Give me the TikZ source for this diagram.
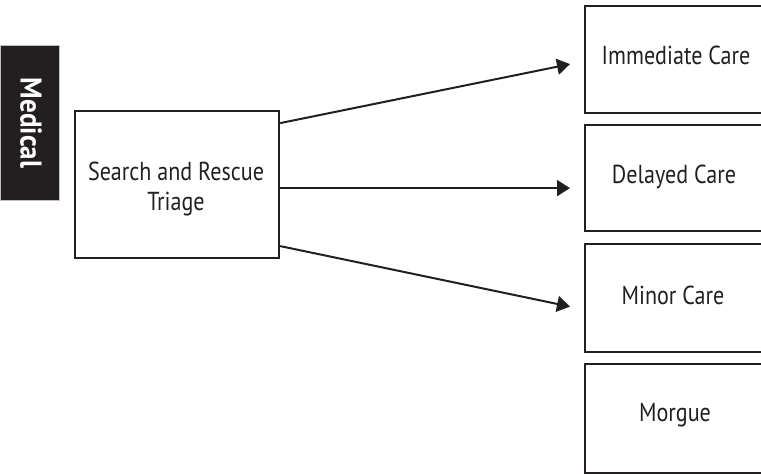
\documentclass[tikz,border=0pt]{standalone}
\usepackage{fontspec}
\setmainfont{PT Sans}
\newfontfamily\boxfont[FakeStretch=0.85]{PT Sans}
\newfontfamily\tabfont[FakeStretch=0.9]{PT Sans Bold}
\usetikzlibrary{arrows.meta,calc}
\definecolor{ink}{HTML}{231F20}
\begin{document}
\begin{tikzpicture}[x=1pt,y=-1pt,
  catbox/.style={draw=ink,line width=2.2pt,rectangle,inner sep=0pt,anchor=north west},
  lbl/.style={text=ink,font=\boxfont\fontsize{26}{30}\selectfont,align=center,inner sep=0pt},
  arr/.style={draw=ink,line width=2pt,-{Triangle[length=13pt,width=16pt]}}]
\useasboundingbox (0,0) rectangle (761,474);
\clip (0,0) rectangle (761,474);
% tab
\node[fill=ink,draw=black!25,line width=0.8pt,minimum width=59pt,minimum height=155pt,anchor=north west,inner sep=0pt] (tab) at (0,45) {};
\node[rotate=-90,text=white,font=\tabfont\fontsize{30}{34}\selectfont,inner sep=0pt] (tabtxt) at (31,123) {Medical};
% triage box
\node[catbox,minimum width=204pt,minimum height=147pt] (tri) at (74,110) {};
\node[lbl] (tritxt) at (176,189) {Search and Rescue\\[0pt]Triage};
% category boxes
\node[catbox,minimum width=210pt,minimum height=107pt] (imm) at (584,5) {};
\node[catbox,minimum width=210pt,minimum height=106pt] (del) at (584,124) {};
\node[catbox,minimum width=210pt,minimum height=108pt] (min) at (584,243) {};
\node[catbox,minimum width=210pt,minimum height=109pt] (mor) at (584,363) {};
\node[lbl] (immtxt) at (676,55) {Immediate Care};
\node[lbl] (deltxt) at (674,177) {Delayed Care};
\node[lbl] (mintxt) at (673,295) {Minor Care};
\node[lbl] (mortxt) at (675,415) {Morgue};
% arrows
\draw[arr] ($(tri.east)+(0,-61.5)$) -- ($(imm.west)+(-14,4.5)$);
\draw[arr] ($(tri.east)+(0,3.5)$) -- ($(del.west)+(-14,10)$);
\draw[arr] ($(tri.east)+(0,61.5)$) -- ($(min.west)+(-14,8.5)$);
\end{tikzpicture}
\end{document}
